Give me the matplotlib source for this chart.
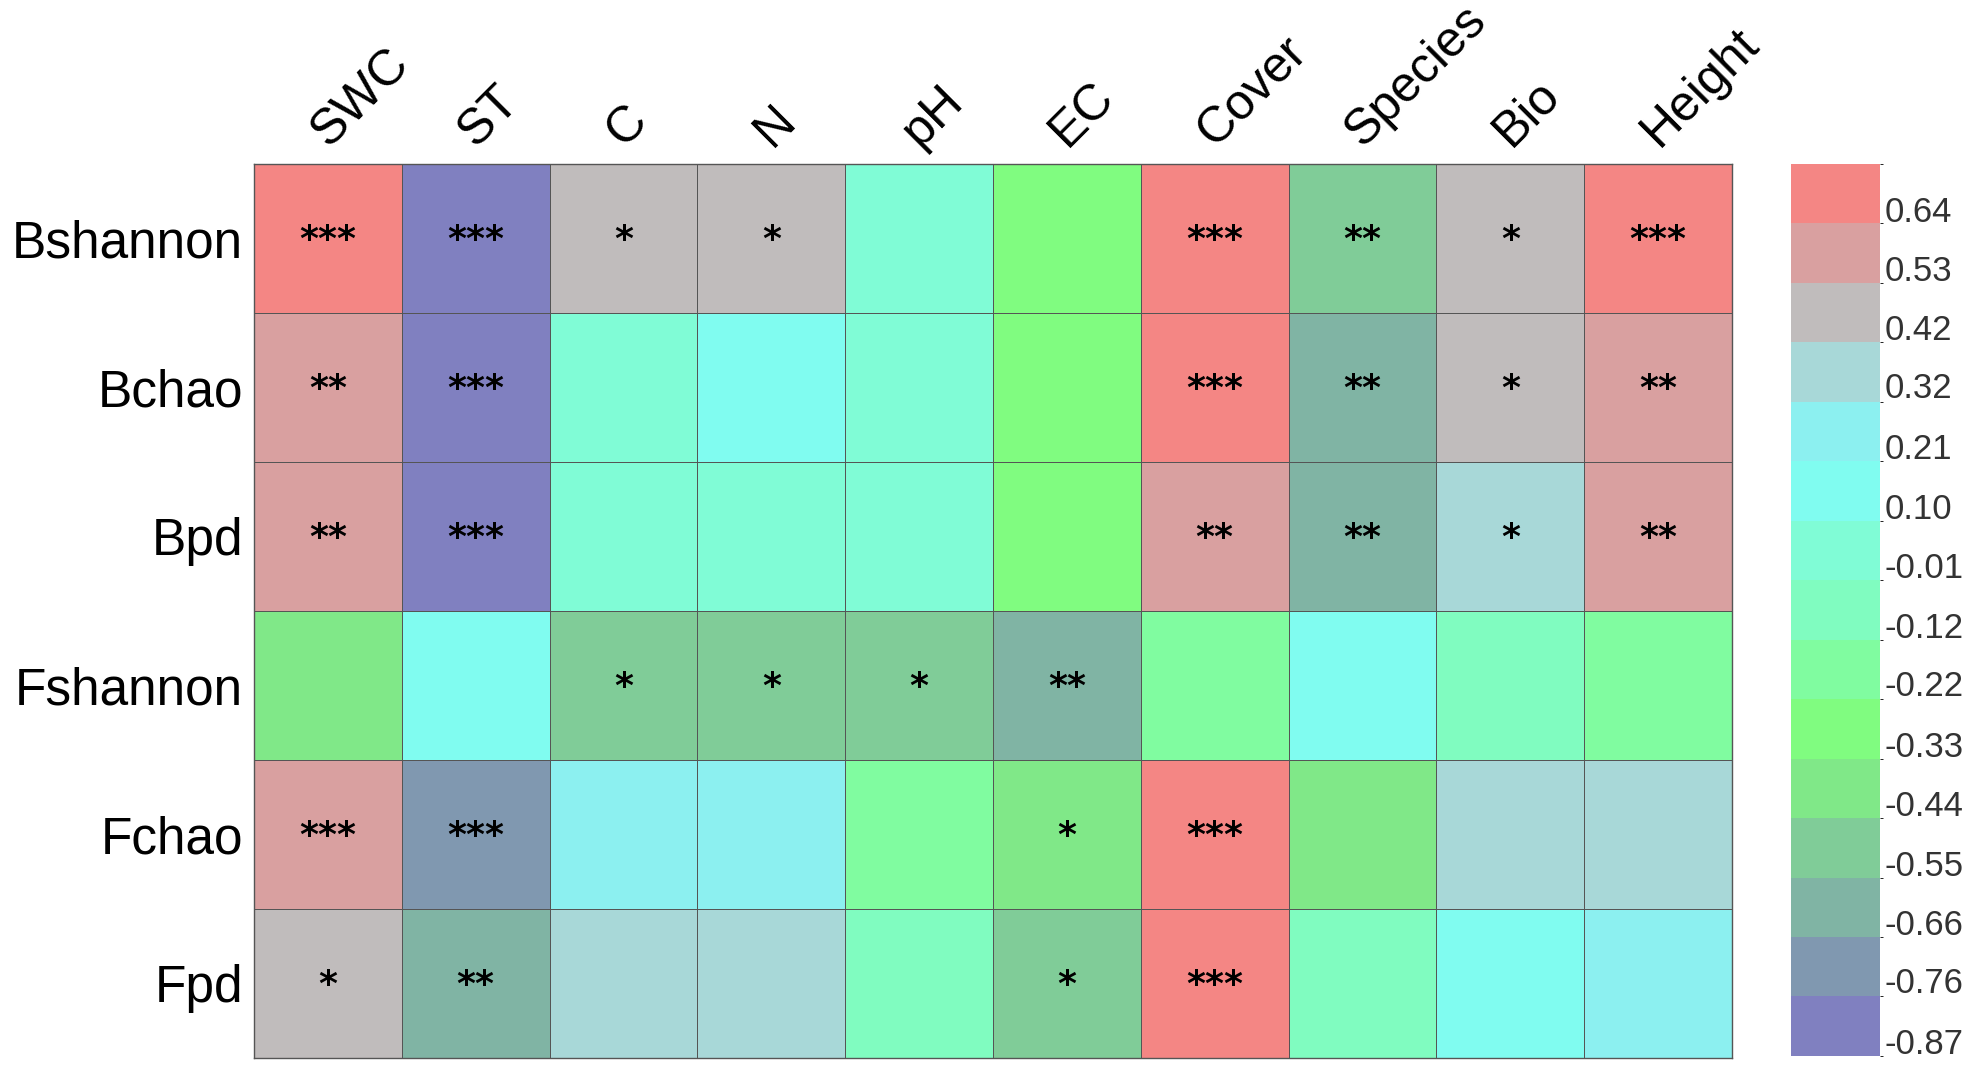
import numpy as np
import matplotlib
matplotlib.use("Agg")
import matplotlib.pyplot as plt
from matplotlib.colors import ListedColormap, BoundaryNorm

plt.rcParams["font.family"] = ["Liberation Sans", "DejaVu Sans"]

# columns (environment factors) and rows (diversity indices)
cols = ["SWC", "ST", "C", "N", "pH", "EC", "Cover", "Species", "Bio", "Height"]
rows = ["Bshannon", "Bchao", "Bpd", "Fshannon", "Fchao", "Fpd"]

# correlation values
r_bshannon = [0.69, -0.82, 0.47, 0.47, 0.04, -0.28, 0.69, -0.50, 0.47, 0.69]
r_bchao = [0.58, -0.82, 0.04, 0.15, 0.04, -0.28, 0.69, -0.61, 0.47, 0.58]
r_bpd = [0.58, -0.82, 0.04, 0.04, 0.04, -0.28, 0.58, -0.61, 0.37, 0.58]
r_fshannon = [-0.39, 0.15, -0.50, -0.50, -0.50, -0.61, -0.17, 0.15, -0.07, -0.17]
r_fchao = [0.58, -0.71, 0.26, 0.26, -0.17, -0.39, 0.69, -0.39, 0.37, 0.37]
r_fpd = [0.47, -0.61, 0.37, 0.37, -0.07, -0.50, 0.69, -0.07, 0.15, 0.26]

# significance marks
s_bshannon = ["***", "***", "*", "*", "", "", "***", "**", "*", "***"]
s_bchao = ["**", "***", "", "", "", "", "***", "**", "*", "**"]
s_bpd = ["**", "***", "", "", "", "", "**", "**", "*", "**"]
s_fshannon = ["", "", "*", "*", "*", "**", "", "", "", ""]
s_fchao = ["***", "***", "", "", "", "*", "***", "", "", ""]
s_fpd = ["*", "**", "", "", "", "*", "***", "", "", ""]

# colour bar levels (lower bound of each band)
levels = [-0.87, -0.76, -0.66, -0.55, -0.44, -0.33, -0.22, -0.12,
          -0.01, 0.10, 0.21, 0.32, 0.42, 0.53, 0.64]
band_colors = ["#8080C0", "#8098B0", "#80B4A4", "#80CC98", "#80E888",
               "#80FC80", "#80FCA0", "#80FCC0", "#80FCD6", "#80FCF0",
               "#8CF0F0", "#A8D8D8", "#C0BCBC", "#D9A0A0", "#F48684"]

data = np.array([r_bshannon, r_bchao, r_bpd, r_fshannon, r_fchao, r_fpd])
stars = [s_bshannon, s_bchao, s_bpd, s_fshannon, s_fchao, s_fpd]

step = levels[1] - levels[0]
bounds = levels + [levels[-1] + step]
cmap = ListedColormap(band_colors)
norm = BoundaryNorm(bounds, cmap.N)

fig = plt.figure(figsize=(19.83, 10.73), dpi=100)
ax = fig.add_axes([0.1281, 0.0140, 0.7453, 0.8332])
cax = fig.add_axes([0.9034, 0.0159, 0.0449, 0.8313])

mesh = ax.pcolormesh(data, cmap=cmap, norm=norm, edgecolors="#555555", linewidth=0.7)
ax.set_xlim(0, len(cols))
ax.set_ylim(len(rows), 0)

for i in range(len(rows)):
    for j in range(len(cols)):
        if stars[i][j]:
            ax.text(j + 0.5, i + 0.51, stars[i][j], ha="center", va="center",
                    fontsize=26, fontweight="bold", color="black", family="DejaVu Sans")

ax.set_xticks([])
ax.set_yticks(np.arange(len(rows)) + 0.5)
ax.set_yticklabels(rows, fontsize=37)
ax.tick_params(axis="y", length=0, pad=8)
for spine in ax.spines.values():
    spine.set_color("#555555")
    spine.set_linewidth(1.0)

# rotated column labels above the grid
for j, name in enumerate(cols):
    ax.text(j + 0.55, -0.06, name, rotation=45, rotation_mode="anchor",
            ha="left", va="bottom", fontsize=36)

cb = fig.colorbar(mesh, cax=cax, boundaries=bounds, spacing="uniform")
cb.outline.set_visible(False)
cb.set_ticks([b + 0.25 * step for b in levels])
cb.set_ticklabels([f"{b:.2f}" for b in levels])
cb.ax.tick_params(length=0, labelsize=25, labelcolor="#333333", pad=3)

fig.savefig("out.png", dpi=100)
